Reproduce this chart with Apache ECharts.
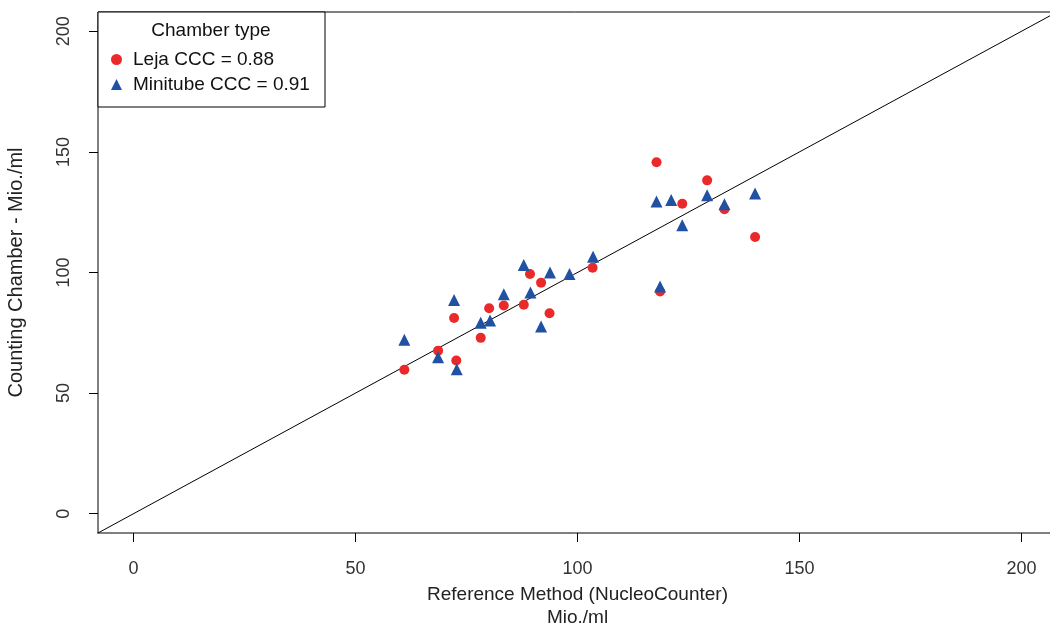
<!DOCTYPE html>
<html>
<head>
<meta charset="utf-8">
<script src="https://cdn.jsdelivr.net/npm/echarts@6/dist/echarts.min.js"></script>
<style>
  html, body { margin: 0; padding: 0; background: #fff; }
  #chart { width: 1050px; height: 625px; }
</style>
</head>
<body>
<div id="chart"></div>
<script>
// Leja chamber vs NucleoCounter (Mio./ml)
const lejaX = [61.0, 68.6, 72.2, 72.7, 78.2, 80.1, 83.4, 87.9, 89.3, 91.8, 93.7, 103.4, 117.8, 129.2, 123.6, 133.1, 140.0, 118.6];
const lejaY = [59.7, 67.6, 81.1, 63.5, 72.9, 85.2, 86.3, 86.6, 99.4, 95.8, 83.1, 102.0, 145.7, 138.2, 128.5, 126.2, 114.7, 92.1];

// Minitube chamber vs NucleoCounter
const miniX = [61.0, 68.6, 72.2, 72.8, 78.2, 80.3, 83.4, 87.9, 89.4, 93.8, 91.8, 98.2, 103.5, 117.8, 121.1, 129.2, 133.1, 140.0, 123.6, 118.6];
const miniY = [72.1, 64.9, 88.6, 59.9, 79.2, 80.1, 91.0, 103.1, 91.7, 100.0, 77.6, 99.4, 106.5, 129.4, 130.1, 132.0, 128.3, 132.8, 119.6, 94.2];

const seriesNames = ["Leja CCC = 0.88", "Minitube CCC = 0.91"];
const tickValues = [0, 50, 100, 150, 200];
const axisMin = -8;
const axisMax = 208;

window.addEventListener("load", function () {
  const myChart = echarts.init(document.getElementById("chart"));
  const font = "Liberation Sans, Arial, sans-serif";

  const zip = (xs, ys) => xs.map((x, i) => [x, ys[i]]);

  const option = {
    animation: false,
    grid: {
      left: 98,
      top: 12,
      width: 959,
      height: 521,
      outerBoundsMode: "none",
      containLabel: false,
      show: true,
      borderColor: "#000",
      borderWidth: 1,
    },
    xAxis: {
      type: "value",
      min: axisMin,
      max: axisMax,
      splitLine: { show: false },
      axisLine: { show: false, onZero: false },
      axisTick: {
        show: true,
        inside: false,
        length: 9,
        customValues: tickValues,
        lineStyle: { color: "#000" },
      },
      axisLabel: {
        customValues: tickValues,
        margin: 27,
        fontSize: 18,
        color: "#333",
        fontFamily: font,
      },
      name: "Reference Method (NucleoCounter)\nMio./ml",
      nameLocation: "middle",
      nameGap: 48,
      nameTextStyle: {
        fontSize: 19,
        color: "#222",
        fontFamily: font,
        lineHeight: 23,
      },
    },
    yAxis: {
      type: "value",
      min: axisMin,
      max: axisMax,
      splitLine: { show: false },
      axisLine: { show: false, onZero: false },
      axisTick: {
        show: true,
        inside: false,
        length: 9,
        customValues: tickValues,
        lineStyle: { color: "#000" },
      },
      axisLabel: {
        customValues: tickValues,
        rotate: 90,
        margin: 25,
        fontSize: 18,
        color: "#333",
        fontFamily: font,
      },
      name: "Counting Chamber - Mio./ml",
      nameLocation: "middle",
      nameGap: 72,
      nameTextStyle: {
        fontSize: 20,
        color: "#222",
        fontFamily: font,
      },
    },
    legend: {
      orient: "vertical",
      left: 111,
      top: 50,
      z: 60,
      itemWidth: 11,
      itemHeight: 11,
      itemGap: 6,
      padding: 0,
      data: [
        { name: seriesNames[0], icon: "circle" },
        { name: seriesNames[1], icon: "triangle" },
      ],
      textStyle: {
        fontSize: 19,
        color: "#111",
        fontFamily: font,
        padding: [0, 0, 0, 6],
      },
    },
    graphic: [
      {
        type: "rect",
        shape: { x: 98, y: 12, width: 227, height: 95 },
        style: { fill: "#fff", stroke: "#000", lineWidth: 1 },
        z: 50,
      },
      {
        type: "text",
        x: 211,
        y: 31,
        style: {
          text: "Chamber type",
          fontSize: 19,
          fill: "#111",
          fontFamily: font,
          align: "center",
          verticalAlign: "middle",
        },
        z: 51,
      },
    ],
    series: [
      {
        type: "line",
        data: [[axisMin - 5, axisMin - 5], [axisMax + 5, axisMax + 5]],
        showSymbol: false,
        symbol: "none",
        silent: true,
        lineStyle: { color: "#000", width: 1 },
        z: 1,
      },
      {
        name: seriesNames[0],
        type: "scatter",
        data: zip(lejaX, lejaY),
        symbol: "circle",
        symbolSize: 10,
        itemStyle: { color: "#ea2a2a", opacity: 1 },
        z: 2,
      },
      {
        name: seriesNames[1],
        type: "scatter",
        data: zip(miniX, miniY),
        symbol: "triangle",
        symbolSize: 12,
        itemStyle: { color: "#2151a3", opacity: 1 },
        z: 3,
      },
    ],
  };
  myChart.setOption(option);
});
</script>
</body>
</html>
